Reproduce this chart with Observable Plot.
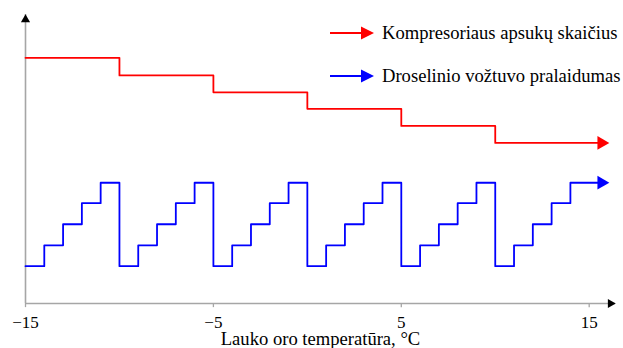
<!DOCTYPE html>
<html>
<head>
<meta charset="utf-8">
<script src="https://cdn.jsdelivr.net/npm/d3@7"></script>
<script src="https://cdn.jsdelivr.net/npm/@observablehq/plot@0.6"></script>
<style>
  body { margin: 0; background: #fff; }
  #wrap { position: relative; width: 623px; height: 348px; font-family: "Liberation Serif", "Times New Roman", serif; }
  #legend { position: absolute; left: 0; top: 0; width: 623px; height: 100px; pointer-events: none; }
  .lg { position: absolute; left: 330px; display: flex; align-items: center; font-size: 18.6px; color: #000; white-space: nowrap; }
  .lg svg { margin-right: 8px; }
</style>
</head>
<body>
<div id="wrap"><div id="legend"></div></div>
<script>
// ---- data ----
const xTicks = [-15, -5, 5, 15];
const xTickLabels = ["−15", "−5", "5", "15"];
const xLabel = "Lauko oro temperatūra, °C";

const seriesNames = ["Kompresoriaus apsukų skaičius", "Droselinio vožtuvo pralaidumas"];
const seriesColors = ["#ff0000", "#0000ff"];

// compressor speed (relative units), step-after
const redX = [-15, -10, -5, 0, 5, 10, 15.65];
const redY = [11.9, 11.05, 10.23, 9.43, 8.6, 7.78, 7.78];

// throttle valve opening (relative units), step-after
const blueX = [-15, -14, -13, -12, -11, -10, -9, -8, -7, -6, -5, -4, -3, -2, -1, 0, 1, 2, 3, 4, 5, 6, 7, 8, 9, 10, 11, 12, 13, 14, 15.65];
const blueY = [1.81, 2.82, 3.84, 4.86, 5.85, 1.81, 2.82, 3.84, 4.86, 5.85, 1.81, 2.82, 3.84, 4.86, 5.85, 1.81, 2.82, 3.84, 4.86, 5.85, 1.81, 2.82, 3.84, 4.86, 5.85, 1.81, 2.82, 3.84, 4.86, 5.85, 5.85];

const xDomain = [-15, 16.4];
const yDomain = [0, 14];
const tickLen = -0.2; // tick extends below the axis (y units)

const red = redX.map((x, i) => ({x, y: redY[i]}));
const blue = blueX.map((x, i) => ({x, y: blueY[i]}));
const axisGray = "#a6a6a6";
const font = "'Liberation Serif', 'Times New Roman', serif";

const chart = Plot.plot({
  width: 623,
  height: 348,
  marginLeft: 25,
  marginRight: 8,
  marginTop: 14,
  marginBottom: 45,
  style: {fontFamily: font, fontSize: "17px", background: "white", color: "black"},
  x: {domain: xDomain, axis: null},
  y: {domain: yDomain, axis: null},
  marks: [
    Plot.ruleX([xDomain[0]], {y1: yDomain[0], y2: yDomain[1], stroke: axisGray, strokeWidth: 1.6}),
    Plot.ruleY([yDomain[0]], {x1: xDomain[0], x2: xDomain[1], stroke: axisGray, strokeWidth: 1.6}),
    Plot.ruleX(xTicks, {x: d => d, y1: yDomain[0], y2: tickLen, stroke: axisGray, strokeWidth: 1.3}),
    Plot.text(xTicks, {x: d => d, y: yDomain[0], text: (d, i) => xTickLabels[i], dy: 19, fill: "black", fontSize: 17}),
    Plot.text([xLabel], {frameAnchor: "bottom", dy: 36, fill: "black", fontSize: 18.6, lineAnchor: "middle"}),
    Plot.dot([{x: xDomain[0], y: yDomain[1]}], {x: "x", y: "y", symbol: "triangle", r: 3.4, fill: "black", dy: 5}),
    Plot.dot([{x: xDomain[1], y: yDomain[0]}], {x: "x", y: "y", symbol: "triangle", r: 3.4, fill: "black", rotate: 90, dx: -5}),
    Plot.line(red, {x: "x", y: "y", curve: "step-after", stroke: seriesColors[0], strokeWidth: 1.8}),
    Plot.line(blue, {x: "x", y: "y", curve: "step-after", stroke: seriesColors[1], strokeWidth: 1.8}),
    Plot.dot([red[red.length - 1]], {x: "x", y: "y", symbol: "triangle", r: 5.1, fill: seriesColors[0], rotate: 90}),
    Plot.dot([blue[blue.length - 1]], {x: "x", y: "y", symbol: "triangle", r: 5.1, fill: seriesColors[1], rotate: 90})
  ]
});
document.getElementById("wrap").prepend(chart);

// ---- legend ----
const legend = document.getElementById("legend");
const legendTops = [33, 76];
seriesNames.forEach((name, i) => {
  const row = document.createElement("div");
  row.className = "lg";
  row.style.top = (legendTops[i] - 11) + "px";
  row.style.height = "22px";
  row.innerHTML = `<svg width="44" height="14" viewBox="0 0 44 14"><line x1="0" y1="7" x2="33" y2="7" stroke="${seriesColors[i]}" stroke-width="1.8"/><path d="M31,0.5 L44,7 L31,13.5 Z" fill="${seriesColors[i]}"/></svg><span>${name}</span>`;
  legend.appendChild(row);
});
</script>
</body>
</html>
